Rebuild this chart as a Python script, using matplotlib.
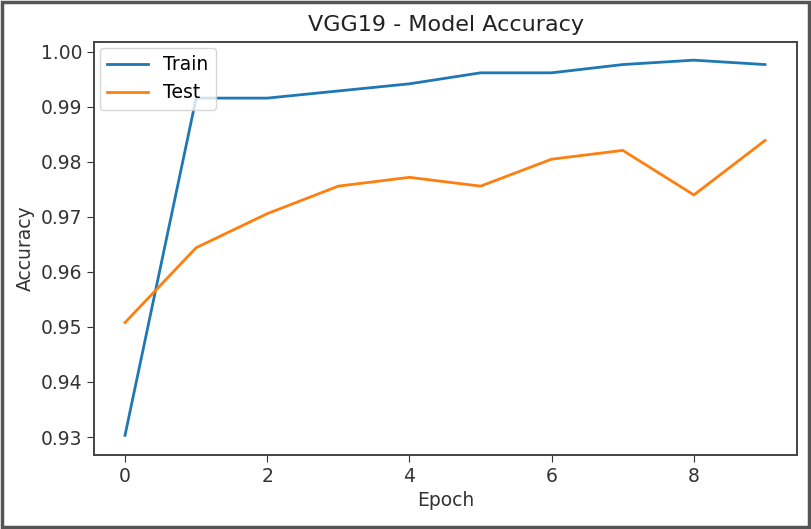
import matplotlib
matplotlib.use('Agg')
import matplotlib.pyplot as plt
from matplotlib.patches import Rectangle

# Datos
epocas = list(range(10))
train_acc = [0.9303, 0.9916, 0.9916, 0.9929, 0.9942, 0.9962, 0.9962, 0.9977, 0.9985, 0.9977]
test_acc = [0.9508, 0.9644, 0.9706, 0.9756, 0.9772, 0.9756, 0.9805, 0.9821, 0.9740, 0.9839]
y_ticks = [0.93, 0.94, 0.95, 0.96, 0.97, 0.98, 0.99, 1.00]

fig = plt.figure(figsize=(8.11, 5.29), dpi=100)
ax = fig.add_axes([94/811, 1 - 455/529, (797-94)/811, (455-42)/529])

ax.plot(epocas, train_acc, color='#1f77b4', lw=2, label='Train')
ax.plot(epocas, test_acc, color='#ff7f0e', lw=2, label='Test')

ax.set_xticks([0, 2, 4, 6, 8])
ax.set_yticks(y_ticks)
ax.set_yticklabels(['%.2f' % v for v in y_ticks])
ax.set_xlim(-0.436, 9.45)
ax.set_ylim(0.92673, 1.0018)
ax.tick_params(labelsize=13.5, colors='#333333', length=5)
for s in ax.spines.values():
    s.set_linewidth(1.4)
    s.set_color('#444444')

ax.set_title('VGG19 - Model Accuracy', fontsize=16, color='#222222', pad=8)
ax.set_xlabel('Epoch', fontsize=13.5, color='#333333')
ax.set_ylabel('Accuracy', fontsize=13.5, color='#333333')
ax.legend(loc='upper left', fontsize=13.5, borderaxespad=0.3, handlelength=2.2)

# marco exterior de la captura
fig.patches.append(Rectangle((0.003, 0.004), 0.994, 0.992, transform=fig.transFigure,
                             fill=False, edgecolor='#555555', lw=2.5))

fig.savefig('out.png', dpi=100)
